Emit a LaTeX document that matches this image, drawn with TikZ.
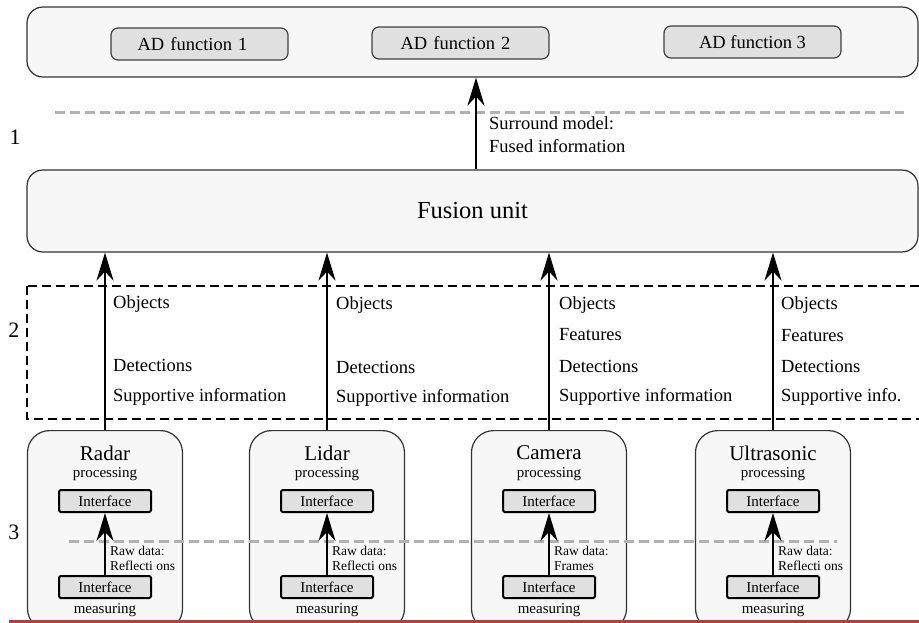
\documentclass[tikz,border=0pt]{standalone}
\usepackage{fontspec}
\setmainfont{Liberation Serif}
\usetikzlibrary{arrows.meta,positioning,calc}
\tikzset {>={Stealth[length=28pt,width=17pt,inset=9pt]}}
\definecolor{isored}{RGB}{212,48,52}
\tikzset{
  bigbox/.style={draw=black!80,fill=black!3,rounded corners=16pt,line width=1.2pt},
  funcbox/.style={draw=black!75,fill=black!12,rounded corners=7pt,line width=1.2pt,
    minimum width=177pt,minimum height=32pt,font=\fontsize{18.5}{22}\selectfont},
  ifacebox/.style={draw,fill=black!12,rounded corners=1.5pt,line width=2pt,
    minimum width=92pt,minimum height=22pt,inner sep=0pt,font=\fontsize{15}{18}\selectfont},
  flow/.style={line width=2pt,->},
  lbl/.style={anchor=west,inner sep=0pt,font=\fontsize{18.5}{23}\selectfont},
  level/.style={font=\fontsize{22}{24}\selectfont},
  graydash/.style={draw=black!30,line width=3pt,dash pattern=on 10pt off 5pt},
}

\begin{document}
\begin{tikzpicture}[x=1pt,y=-1pt]
\useasboundingbox (0,0) rectangle (919,623);
\clip (0,0) rectangle (919,623);

% Level 1: AD functions and fusion unit
\node[bigbox,minimum width=891pt,minimum height=70pt] (adbox) at (472.5,42) {};
\node[funcbox,text width=160pt,align=left,xshift=0pt] (ad1) at (199.5,44)
  {\hspace*{18pt}AD function 1};
\node[funcbox,text width=160pt,align=left] (ad2) at (460.5,43)
  {\hspace*{20pt}AD function 2};
\node[funcbox] (ad3) at (752.5,42) {AD function 3};
\node[bigbox,minimum width=891pt,minimum height=82pt,
  font=\fontsize{24.5}{28}\selectfont] (fusion) at (472.5,211) {Fusion unit};
\coordinate (S) at (476,0);
\draw[graydash] (55,113) -- (904,113);
\node[level] (one) at (15,137) {1};
\draw[flow] (fusion.north -| S) -- (adbox.south -| S);
\node[lbl,align=left,anchor=north west] (surround) at (489,116)
  {Surround model:\\Fused information};

% Level 2: sensor outputs
\draw[line width=2.5pt,dash pattern=on 9pt off 5pt] (27,286) rectangle (935,419);
\node[level] (two) at (14,330) {2};

% Level 3: sensors
\foreach \name/\x/\title in {radar/105/Radar,lidar/327/Lidar,
    camera/549/Camera,ultra/773/Ultrasonic} {
  \node[bigbox,rounded corners=22pt,minimum width=155pt,minimum height=200pt,
    anchor=north] (\name) at (\x,430) {};
  \node[font=\fontsize{21}{24}\selectfont] (\name-title) at (\x,453) {\title};
  \node[font=\fontsize{15}{18}\selectfont] (\name-proc) at (\x,474) {processing};
  \node[ifacebox] (\name-up)  at (\x,501) {Interface};
  \node[ifacebox] (\name-low) at (\x,587) {Interface};
  \node[font=\fontsize{15}{18}\selectfont] (\name-meas) at (\x,610) {measuring};
}
\draw[graydash] (69,541) -- (837,541);
\node[level] (three) at (14,532) {3};

% Arrows and raw data labels
\foreach \name/\x/\raw in {radar/105/Reflecti ons,lidar/327/Reflecti ons,
    camera/549/Frames,ultra/773/Reflecti ons} {
  \draw[flow] (\name-low) -- (\name-up);
  \draw[flow] (\name.north) -- (\name.north |- fusion.south);
  \node[lbl,align=left,font=\fontsize{13.5}{15}\selectfont] (\name-raw)
    at (\x+5,558) {Raw data:\\\raw};
}

% Labels inside the dashed box
\node[lbl] (obj1) at (113,304) {Objects};
\node[lbl] (det1) at (113,365) {Detections};
\node[lbl] (sup1) at (113,397) {Supportive information};
\node[lbl] (obj2) at (336,305) {Objects};
\node[lbl] (det2) at (336,367) {Detections};
\node[lbl] (sup2) at (336,398) {Supportive information};
\node[lbl] (obj3) at (559,305) {Objects};
\node[lbl] (fea3) at (559,335) {Features};
\node[lbl] (det3) at (559,366) {Detections};
\node[lbl] (sup3) at (559,397) {Supportive information};
\node[lbl] (obj4) at (781,305) {Objects};
\node[lbl] (fea4) at (781,336) {Features};
\node[lbl] (det4) at (781,366) {Detections};
\node[lbl] (sup4) at (781,397) {Supportive info.};

% Page rule
\draw[isored,line width=3pt] (9,621) -- (919,621);
\end{tikzpicture}
\end{document}
